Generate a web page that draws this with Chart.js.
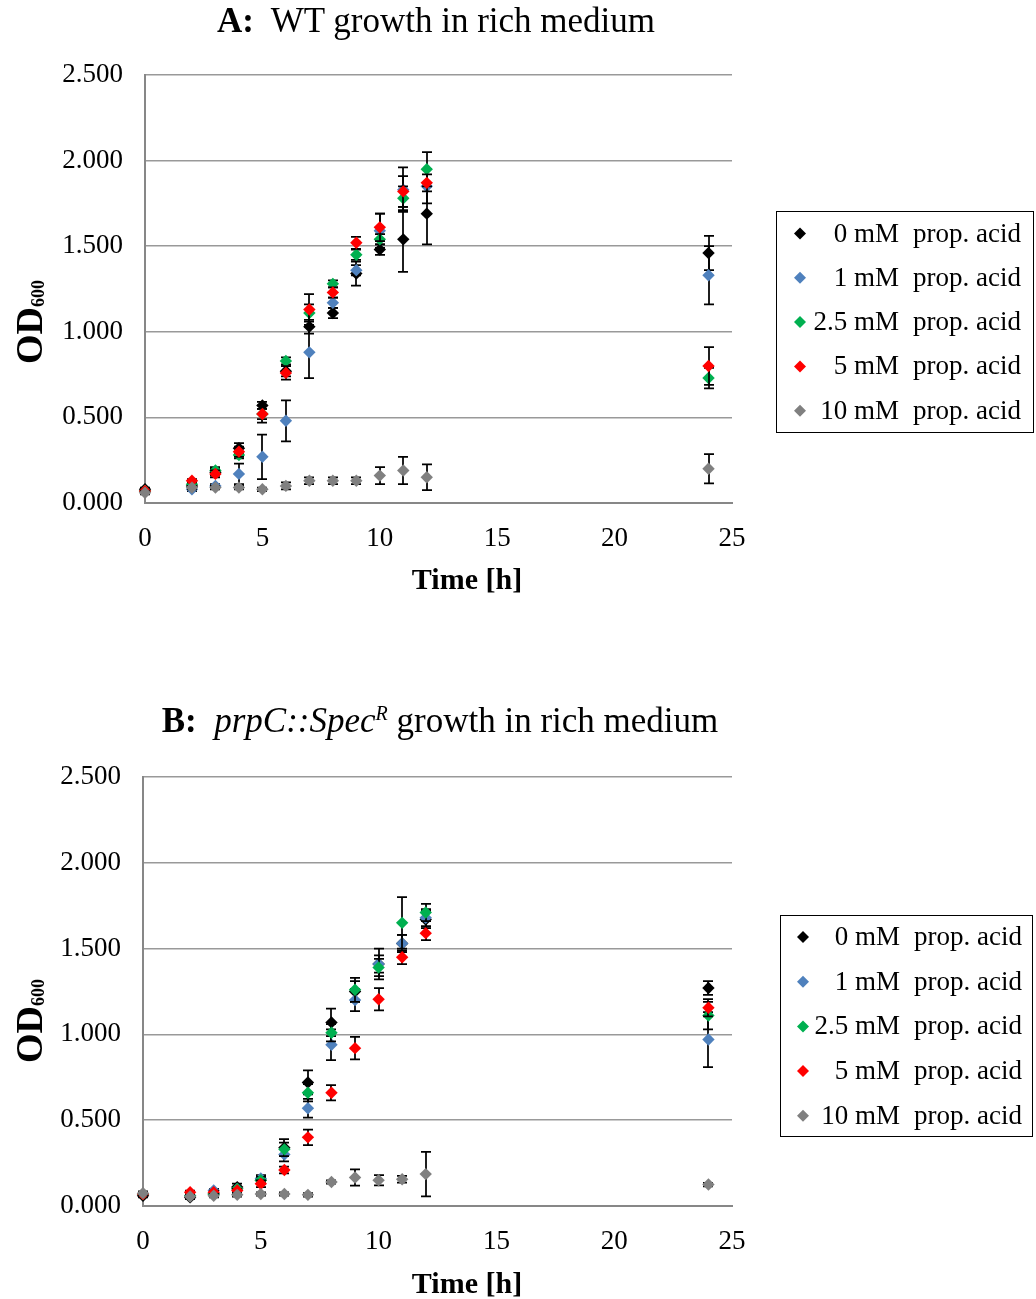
<!DOCTYPE html>
<html>
<head>
<meta charset="utf-8">
<script src="https://cdn.jsdelivr.net/npm/chart.js@4/dist/chart.umd.min.js"></script>
<style>
  body { margin: 0; background: #fff; }
  #page { position: relative; width: 1036px; height: 1299px; font-family: "Liberation Serif", serif; color: #000; }
  canvas { position: absolute; left: 0; }
  .lbl { position: absolute; white-space: nowrap; line-height: 1; }
  .title { font-size: 35px; transform: translateX(-50%); }
  .xlab { font-size: 30px; font-weight: bold; transform: translateX(-50%); }
  .ylab { font-size: 38px; font-weight: bold; transform: translate(-50%, -50%) rotate(-90deg); }
  .ylab span { font-size: 18px; position: relative; top: 2px; }
  .sup { font-size: 20px; position: relative; top: -12px; }
</style>
</head>
<body>
<div id="page">
  <canvas id="chartA" width="1036" height="640" style="top:0"></canvas>
  <canvas id="chartB" width="1036" height="599" style="top:700px"></canvas>

  <div class="lbl title" style="left:436px; top:3px"><b>A:</b>&nbsp; WT growth in rich medium</div>
  <div class="lbl xlab" style="left:467px; top:564px">Time [h]</div>
  <div class="lbl ylab" style="left:29px; top:322px">OD<span>600</span></div>

  <div class="lbl title" style="left:440px; top:703px"><b>B:</b>&nbsp; <i>prpC::Spec<span class="sup">R</span></i> growth in rich medium</div>
  <div class="lbl xlab" style="left:467px; top:1268px">Time [h]</div>
  <div class="lbl ylab" style="left:29px; top:1021px">OD<span>600</span></div>
</div>

<script>
// sampling times [h]
const times = [0, 2, 3, 4, 5, 6, 7, 8, 9, 10, 11, 12, 24];
const concLabels = ['0', '1', '2.5', '5', '10'];
const colors = ['#000000', '#4f81bd', '#00b050', '#ff0000', '#808080'];
const yTickValues = [0, 0.5, 1, 1.5, 2, 2.5];
const yTickLabels = ['0.000', '0.500', '1.000', '1.500', '2.000', '2.500'];
const xTickValues = [0, 5, 10, 15, 20, 25];

// A: WT
const wt0 = [0.08, 0.10, 0.18, 0.32, 0.57, 0.77, 1.03, 1.11, 1.34, 1.48, 1.54, 1.69, 1.46];
const wt0Err = [0.01, 0.01, 0.02, 0.03, 0.02, 0.03, 0.04, 0.03, 0.07, 0.03, 0.19, 0.18, 0.10];
const wt1 = [0.07, 0.08, 0.10, 0.17, 0.27, 0.48, 0.88, 1.17, 1.36, 1.59, 1.83, 1.85, 1.33];
const wt1Err = [0.01, 0.01, 0.01, 0.06, 0.13, 0.12, 0.15, 0.03, 0.03, 0.10, 0.13, 0.10, 0.17];
const wt25 = [0.07, 0.11, 0.19, 0.28, 0.52, 0.83, 1.11, 1.28, 1.45, 1.54, 1.78, 1.95, 0.73];
const wt25Err = [0.01, 0.01, 0.02, 0.02, 0.03, 0.02, 0.05, 0.02, 0.03, 0.03, 0.07, 0.10, 0.06];
const wt5 = [0.07, 0.13, 0.17, 0.30, 0.52, 0.76, 1.13, 1.23, 1.52, 1.61, 1.82, 1.87, 0.80];
const wt5Err = [0.01, 0.01, 0.02, 0.03, 0.05, 0.04, 0.09, 0.03, 0.035, 0.08, 0.09, 0.05, 0.11];
const wt10 = [0.06, 0.09, 0.09, 0.09, 0.08, 0.10, 0.13, 0.13, 0.13, 0.16, 0.19, 0.15, 0.20];
const wt10Err = [0.01, 0.01, 0.01, 0.01, 0.01, 0.02, 0.02, 0.02, 0.02, 0.05, 0.08, 0.075, 0.085];

// B: prpC::SpecR
const prp0 = [0.06, 0.05, 0.07, 0.11, 0.15, 0.34, 0.72, 1.07, 1.25, 1.41, 1.53, 1.67, 1.27];
const prp0Err = [0.01, 0.01, 0.01, 0.02, 0.02, 0.05, 0.07, 0.08, 0.06, 0.09, 0.05, 0.05, 0.04];
const prp1 = [0.07, 0.06, 0.09, 0.10, 0.16, 0.30, 0.57, 0.94, 1.20, 1.41, 1.53, 1.68, 0.97];
const prp1Err = [0.01, 0.01, 0.01, 0.01, 0.02, 0.04, 0.055, 0.09, 0.065, 0.05, 0.05, 0.05, 0.16];
const prp25 = [0.07, 0.06, 0.07, 0.10, 0.15, 0.33, 0.66, 1.01, 1.26, 1.39, 1.65, 1.71, 1.11];
const prp25Err = [0.01, 0.01, 0.01, 0.01, 0.02, 0.04, 0.05, 0.05, 0.07, 0.05, 0.15, 0.05, 0.08];
const prp5 = [0.07, 0.08, 0.08, 0.09, 0.13, 0.21, 0.40, 0.66, 0.92, 1.205, 1.45, 1.59, 1.155];
const prp5Err = [0.01, 0.01, 0.01, 0.01, 0.02, 0.02, 0.045, 0.045, 0.065, 0.065, 0.04, 0.04, 0.05];
const prp10 = [0.075, 0.055, 0.06, 0.065, 0.07, 0.07, 0.065, 0.14, 0.166, 0.15, 0.156, 0.186, 0.125];
const prp10Err = [0.01, 0.01, 0.01, 0.01, 0.01, 0.01, 0.01, 0.01, 0.047, 0.03, 0.02, 0.13, 0.01];

Chart.defaults.font.family = '"Liberation Serif", serif';
Chart.defaults.color = '#000';

// error bars drawn right before each series' markers
const errorBars = {
  id: 'errorBars',
  beforeDatasetDraw(chart, args) {
    const ds = chart.data.datasets[args.index];
    if (!ds.errors) return;
    const xs = chart.scales.x, ys = chart.scales.y, ctx = chart.ctx;
    ctx.save();
    ctx.strokeStyle = '#000';
    ctx.lineWidth = 1.75;
    ds.data.forEach((p, i) => {
      const e = ds.errors[i];
      if (!e) return;
      const px = Math.round(xs.getPixelForValue(p.x));
      const top = ys.getPixelForValue(p.y + e);
      const bot = ys.getPixelForValue(p.y - e);
      ctx.beginPath();
      ctx.moveTo(px, top); ctx.lineTo(px, bot);
      ctx.moveTo(px - 5, top); ctx.lineTo(px + 5, top);
      ctx.moveTo(px - 5, bot); ctx.lineTo(px + 5, bot);
      ctx.stroke();
    });
    ctx.restore();
  }
};

// boxed legend with right-aligned concentrations
const boxLegend = {
  id: 'boxLegend',
  afterDraw(chart, args, o) {
    const ctx = chart.ctx;
    ctx.save();
    ctx.strokeStyle = '#000';
    ctx.lineWidth = 1;
    ctx.strokeRect(o.left + 0.5, o.top + 0.5, o.width, o.height);
    ctx.font = '27px "Liberation Serif"';
    ctx.textBaseline = 'middle';
    chart.data.datasets.forEach((ds, i) => {
      const cy = o.firstRow + i * o.rowGap;
      const r = 6;
      ctx.fillStyle = ds.backgroundColor;
      ctx.beginPath();
      ctx.moveTo(o.markX, cy - r);
      ctx.lineTo(o.markX + r, cy);
      ctx.lineTo(o.markX, cy + r);
      ctx.lineTo(o.markX - r, cy);
      ctx.closePath();
      ctx.fill();
      ctx.fillStyle = '#000';
      ctx.textAlign = 'right';
      ctx.fillText(concLabels[i] + ' mM', o.numRight, cy + 1);
      ctx.textAlign = 'left';
      ctx.fillText('prop. acid', o.textLeft, cy + 1);
    });
    ctx.restore();
  }
};

function makeChart(id, series, errs, lay) {
  const datasets = series.map((vals, i) => ({
    label: concLabels[i] + ' mM  prop. acid',
    data: times.map((t, j) => ({ x: t, y: vals[j] })),
    errors: errs[i],
    backgroundColor: colors[i],
    borderColor: colors[i],
    borderWidth: 0,
    pointStyle: 'rectRot',
    pointRadius: 6.2,
    order: series.length - i,
    clip: false
  }));
  return new Chart(document.getElementById(id), {
    type: 'scatter',
    data: { datasets },
    plugins: [errorBars, boxLegend],
    options: {
      responsive: false,
      animation: false,
      events: [],
      layout: { autoPadding: false, padding: { top: lay.top, right: lay.right, left: 0, bottom: 0 } },
      plugins: {
        legend: { display: false },
        tooltip: { enabled: false },
        boxLegend: lay.legend
      },
      scales: {
        x: {
          type: 'linear', min: 0, max: 25,
          afterBuildTicks: s => { s.ticks = xTickValues.map(v => ({ value: v })); },
          afterFit: s => { s.height = lay.xHeight; },
          grid: { display: false, drawTicks: false },
          border: { display: true, color: '#878787', width: 2 },
          ticks: { font: { size: 27 }, padding: 20, maxRotation: 0 }
        },
        y: {
          type: 'linear', min: 0, max: 2.5,
          afterBuildTicks: s => { s.ticks = yTickValues.map(v => ({ value: v })); },
          afterFit: s => { s.width = lay.yWidth; },
          grid: { color: '#999999', lineWidth: 1.5, drawTicks: false },
          border: { display: true, color: '#878787', width: 2 },
          ticks: {
            font: { size: 27 }, padding: 22,
            callback: (v) => yTickLabels[yTickValues.indexOf(v)]
          }
        }
      }
    }
  });
}

makeChart('chartA',
  [wt0, wt1, wt25, wt5, wt10],
  [wt0Err, wt1Err, wt25Err, wt5Err, wt10Err],
  { top: 75, right: 304, xHeight: 137, yWidth: 145,
    legend: { left: 776, top: 211, width: 257, height: 221, firstRow: 233.5, rowGap: 44.3, markX: 800, numRight: 899, textLeft: 913 } });

makeChart('chartB',
  [prp0, prp1, prp25, prp5, prp10],
  [prp0Err, prp1Err, prp25Err, prp5Err, prp10Err],
  { top: 77, right: 304, xHeight: 93, yWidth: 143,
    legend: { left: 780, top: 215, width: 252, height: 221, firstRow: 237, rowGap: 44.7, markX: 803, numRight: 900, textLeft: 914 } });
</script>
</body>
</html>
